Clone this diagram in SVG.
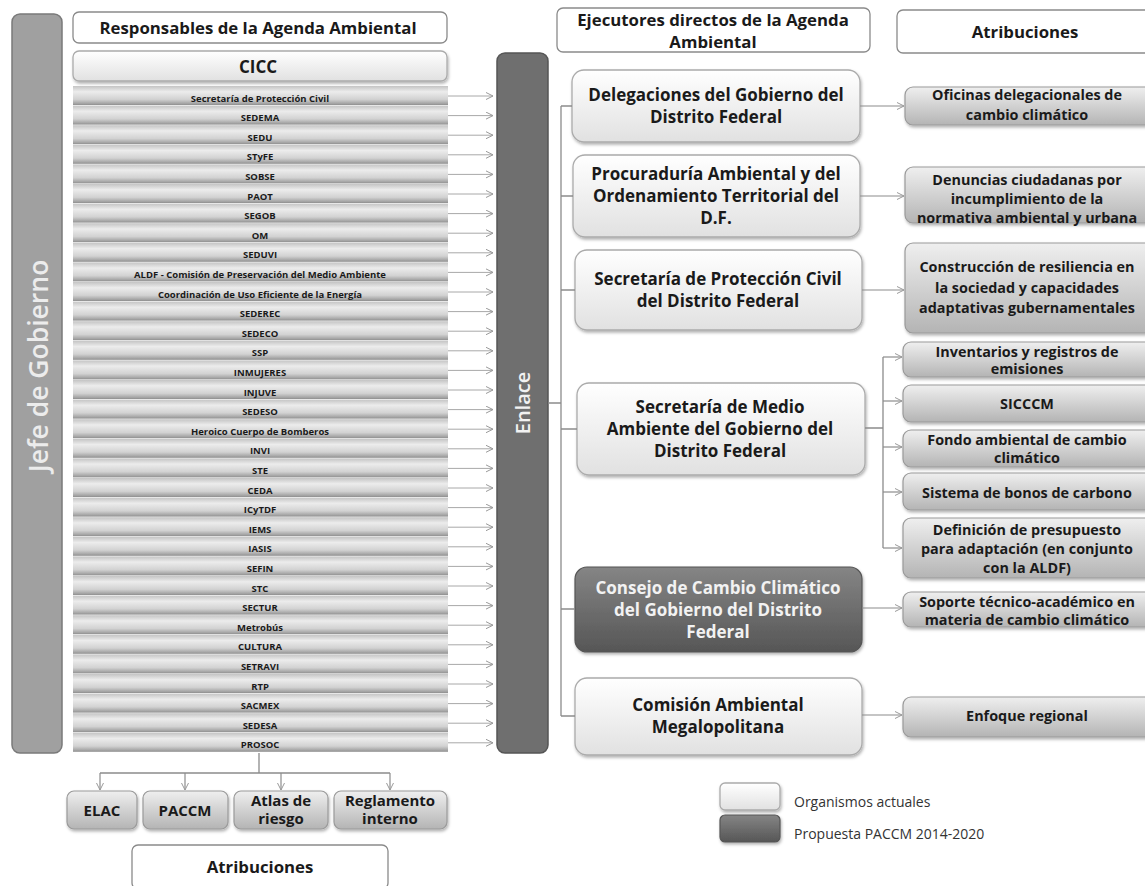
<svg xmlns="http://www.w3.org/2000/svg" width="1145" height="886" viewBox="0 0 1145 886">
<style>
text{font-family:"Open Sans","DejaVu Sans",sans-serif;font-weight:700;fill:#1a1a1a;text-anchor:middle}
.hdr{fill:#fff;stroke:#8a8a8a;stroke-width:1.3}
.lt{fill:url(#gLight);stroke:#ababab;stroke-width:1.3;filter:url(#sh)}
.at{fill:url(#gAttr);stroke:#9a9a9a;stroke-width:1.2;filter:url(#sh)}
.dk{fill:url(#gDark);stroke:#555;stroke-width:1.2;filter:url(#sh)}
.bar{fill:url(#gBar)}
.t15{font-size:15px}
.th{font-size:16.8px}
.t16{font-size:17px}
.t13{font-size:14.4px}
.t9{font-size:9.5px}
.ln{fill:none;stroke:#8c8c8c;stroke-width:1.3}
.ar{fill:none;stroke:#a8a8a8;stroke-width:1;marker-end:url(#ah)}
.ar2{fill:none;stroke:#8c8c8c;stroke-width:1.2;marker-end:url(#ah)}
.leg{font-weight:400;font-size:14px;fill:#333;text-anchor:start}
</style>
<defs>
<linearGradient id="gLight" x1="0" y1="0" x2="0" y2="1"><stop offset="0" stop-color="#ffffff"/><stop offset="1" stop-color="#e1e1e1"/></linearGradient>
<linearGradient id="gAttr" x1="0" y1="0" x2="0" y2="1"><stop offset="0" stop-color="#efefef"/><stop offset="1" stop-color="#b4b4b4"/></linearGradient>
<linearGradient id="gDark" x1="0" y1="0" x2="0" y2="1"><stop offset="0" stop-color="#858585"/><stop offset="1" stop-color="#565656"/></linearGradient>
<linearGradient id="gBar" x1="0" y1="0" x2="0" y2="1"><stop offset="0" stop-color="#c4c4c4"/><stop offset="0.3" stop-color="#ececec"/><stop offset="0.7" stop-color="#d2d2d2"/><stop offset="0.92" stop-color="#a4a4a4"/><stop offset="1" stop-color="#8e8e8e"/></linearGradient>
<filter id="sh" x="-10%" y="-10%" width="125%" height="135%"><feDropShadow dx="1" dy="2" stdDeviation="1.5" flood-color="#000" flood-opacity="0.3"/></filter>
<marker id="ah" markerWidth="10" markerHeight="10" refX="8" refY="4" orient="auto" markerUnits="userSpaceOnUse"><path d="M1,0.5 L8,4 L1,7.5" fill="none" stroke="#9a9a9a" stroke-width="1"/></marker>
</defs>

<g id="jefe"><rect x="12" y="14" width="50" height="739" rx="8" fill="#a0a0a0" stroke="#7a7a7a" stroke-width="1.5"/>
<text transform="translate(38,366) rotate(-90)" y="9.5" style="font-size:26.5px;font-weight:600;fill:#ececec">Jefe de Gobierno</text></g>

<g id="responsables"><rect class="hdr" x="73" y="12" width="374" height="31" rx="6"/><text class="th" x="258" y="34">Responsables de la Agenda Ambiental</text></g>
<g id="cicc"><rect class="lt" x="73" y="51" width="374" height="30" rx="6"/><text x="258" y="73" style="font-size:17px">CICC</text></g>

<g id="lista">
<rect class="bar" x="73" y="86" width="375" height="19"/><text class="t9" x="260" y="101.5">Secretaría de Protección Civil</text>
<rect class="bar" x="73" y="105.6" width="375" height="19"/><text class="t9" x="260" y="121.1">SEDEMA</text>
<rect class="bar" x="73" y="125.2" width="375" height="19"/><text class="t9" x="260" y="140.7">SEDU</text>
<rect class="bar" x="73" y="144.8" width="375" height="19"/><text class="t9" x="260" y="160.3">STyFE</text>
<rect class="bar" x="73" y="164.4" width="375" height="19"/><text class="t9" x="260" y="179.9">SOBSE</text>
<rect class="bar" x="73" y="184" width="375" height="19"/><text class="t9" x="260" y="199.5">PAOT</text>
<rect class="bar" x="73" y="203.6" width="375" height="19"/><text class="t9" x="260" y="219.1">SEGOB</text>
<rect class="bar" x="73" y="223.2" width="375" height="19"/><text class="t9" x="260" y="238.7">OM</text>
<rect class="bar" x="73" y="242.8" width="375" height="19"/><text class="t9" x="260" y="258.3">SEDUVI</text>
<rect class="bar" x="73" y="262.4" width="375" height="19"/><text class="t9" x="260" y="277.9">ALDF - Comisión de Preservación del Medio Ambiente</text>
<rect class="bar" x="73" y="282" width="375" height="19"/><text class="t9" x="260" y="297.5">Coordinación de Uso Eficiente de la Energía</text>
<rect class="bar" x="73" y="301.6" width="375" height="19"/><text class="t9" x="260" y="317.1">SEDEREC</text>
<rect class="bar" x="73" y="321.2" width="375" height="19"/><text class="t9" x="260" y="336.7">SEDECO</text>
<rect class="bar" x="73" y="340.8" width="375" height="19"/><text class="t9" x="260" y="356.3">SSP</text>
<rect class="bar" x="73" y="360.4" width="375" height="19"/><text class="t9" x="260" y="375.9">INMUJERES</text>
<rect class="bar" x="73" y="380" width="375" height="19"/><text class="t9" x="260" y="395.5">INJUVE</text>
<rect class="bar" x="73" y="399.6" width="375" height="19"/><text class="t9" x="260" y="415.1">SEDESO</text>
<rect class="bar" x="73" y="419.2" width="375" height="19"/><text class="t9" x="260" y="434.7">Heroico Cuerpo de Bomberos</text>
<rect class="bar" x="73" y="438.8" width="375" height="19"/><text class="t9" x="260" y="454.3">INVI</text>
<rect class="bar" x="73" y="458.4" width="375" height="19"/><text class="t9" x="260" y="473.9">STE</text>
<rect class="bar" x="73" y="478" width="375" height="19"/><text class="t9" x="260" y="493.5">CEDA</text>
<rect class="bar" x="73" y="497.6" width="375" height="19"/><text class="t9" x="260" y="513.1">ICyTDF</text>
<rect class="bar" x="73" y="517.2" width="375" height="19"/><text class="t9" x="260" y="532.7">IEMS</text>
<rect class="bar" x="73" y="536.8" width="375" height="19"/><text class="t9" x="260" y="552.3">IASIS</text>
<rect class="bar" x="73" y="556.4" width="375" height="19"/><text class="t9" x="260" y="571.9">SEFIN</text>
<rect class="bar" x="73" y="576" width="375" height="19"/><text class="t9" x="260" y="591.5">STC</text>
<rect class="bar" x="73" y="595.6" width="375" height="19"/><text class="t9" x="260" y="611.1">SECTUR</text>
<rect class="bar" x="73" y="615.2" width="375" height="19"/><text class="t9" x="260" y="630.7">Metrobús</text>
<rect class="bar" x="73" y="634.8" width="375" height="19"/><text class="t9" x="260" y="650.3">CULTURA</text>
<rect class="bar" x="73" y="654.4" width="375" height="19"/><text class="t9" x="260" y="669.9">SETRAVI</text>
<rect class="bar" x="73" y="674" width="375" height="19"/><text class="t9" x="260" y="689.5">RTP</text>
<rect class="bar" x="73" y="693.6" width="375" height="19"/><text class="t9" x="260" y="709.1">SACMEX</text>
<rect class="bar" x="73" y="713.2" width="375" height="19"/><text class="t9" x="260" y="728.7">SEDESA</text>
<rect class="bar" x="73" y="732.8" width="375" height="19"/><text class="t9" x="260" y="748.3">PROSOC</text>
</g>

<g id="enlace"><rect x="497" y="53" width="51" height="700" rx="8" fill="#6f6f6f" stroke="#565656" stroke-width="1.5"/>
<text transform="translate(523,403) rotate(-90)" y="7" style="font-size:20px;font-weight:600;fill:#f2f2f2">Enlace</text></g>

<g id="ejecutores"><rect class="hdr" x="557" y="8" width="313" height="44" rx="6"/><text class="th" x="713" y="26">Ejecutores directos de la Agenda</text><text class="th" x="713" y="48">Ambiental</text></g>
<g id="atribuciones-der"><rect class="hdr" x="897" y="10" width="256" height="43" rx="6"/><text class="th" x="1025" y="38">Atribuciones</text></g>

<g id="delegaciones"><rect class="lt" x="572" y="70" width="288" height="72" rx="12"/><text class="t16" x="716" y="101">Delegaciones del Gobierno del</text><text class="t16" x="716" y="123">Distrito Federal</text></g>
<g id="procuraduria"><rect class="lt" x="573" y="155" width="287" height="82" rx="12"/><text class="t16" x="716" y="180">Procuraduría Ambiental y del</text><text class="t16" x="716" y="202">Ordenamiento Territorial del</text><text class="t16" x="716" y="224">D.F.</text></g>
<g id="proteccion-civil"><rect class="lt" x="575" y="250" width="287" height="80" rx="12"/><text class="t16" x="718" y="285">Secretaría de Protección Civil</text><text class="t16" x="718" y="307">del Distrito Federal</text></g>
<g id="sedema"><rect class="lt" x="577" y="383" width="288" height="92" rx="12"/><text class="t16" x="720" y="413">Secretaría de Medio</text><text class="t16" x="720" y="435">Ambiente del Gobierno del</text><text class="t16" x="720" y="457">Distrito Federal</text></g>
<g id="consejo"><rect class="dk" x="575" y="567" width="287" height="85" rx="12"/><text class="t16" x="718" y="594" style="fill:#f2f2f2">Consejo de Cambio Climático</text><text class="t16" x="718" y="616" style="fill:#f2f2f2">del Gobierno del Distrito</text><text class="t16" x="718" y="638" style="fill:#f2f2f2">Federal</text></g>
<g id="comision"><rect class="lt" x="575" y="678" width="287" height="77" rx="12"/><text class="t16" x="718" y="711">Comisión Ambiental</text><text class="t16" x="718" y="733">Megalopolitana</text></g>

<g id="oficinas"><rect class="at" x="905" y="87" width="250" height="38" rx="8"/><text class="t13" x="1027" y="100">Oficinas delegacionales de</text><text class="t13" x="1027" y="120">cambio climático</text></g>
<g id="denuncias"><rect class="at" x="905" y="167" width="250" height="56" rx="8"/><text class="t13" x="1027" y="185">Denuncias ciudadanas por</text><text class="t13" x="1027" y="204">incumplimiento de la</text><text class="t13" x="1027" y="223">normativa ambiental y urbana</text></g>
<g id="resiliencia"><rect class="at" x="905" y="243" width="250" height="90" rx="8"/><text class="t13" x="1027" y="272">Construcción de resiliencia en</text><text class="t13" x="1027" y="292.5">la sociedad y capacidades</text><text class="t13" x="1027" y="313">adaptativas gubernamentales</text></g>
<g id="inventarios"><rect class="at" x="903" y="342" width="252" height="35" rx="8"/><text class="t13" x="1027" y="357">Inventarios y registros de</text><text class="t13" x="1027" y="374">emisiones</text></g>
<g id="sicccm"><rect class="at" x="903" y="385" width="252" height="37" rx="8"/><text class="t13" x="1027" y="409">SICCCM</text></g>
<g id="fondo"><rect class="at" x="903" y="430" width="252" height="37" rx="8"/><text class="t13" x="1027" y="445">Fondo ambiental de cambio</text><text class="t13" x="1027" y="463">climático</text></g>
<g id="bonos"><rect class="at" x="903" y="473" width="252" height="37" rx="8"/><text class="t13" x="1027" y="498">Sistema de bonos de carbono</text></g>
<g id="presupuesto"><rect class="at" x="903" y="518" width="252" height="60" rx="8"/><text class="t13" x="1027" y="535">Definición de presupuesto</text><text class="t13" x="1027" y="554">para adaptación (en conjunto</text><text class="t13" x="1027" y="573">con la ALDF)</text></g>
<g id="soporte"><rect class="at" x="903" y="592" width="252" height="35" rx="8"/><text class="t13" x="1027" y="607">Soporte técnico-académico en</text><text class="t13" x="1027" y="625">materia de cambio climático</text></g>
<g id="enfoque"><rect class="at" x="903" y="697" width="252" height="40" rx="8"/><text class="t13" x="1027" y="721">Enfoque regional</text></g>

<g id="elac"><rect class="at" x="67" y="791" width="70" height="38" rx="7"/><text class="t15" x="102" y="815.5">ELAC</text></g>
<g id="paccm"><rect class="at" x="143" y="791" width="85" height="38" rx="7"/><text class="t15" x="185" y="815.5">PACCM</text></g>
<g id="atlas"><rect class="at" x="234" y="791" width="94" height="38" rx="7"/><text class="t15" x="281" y="805.5">Atlas de</text><text class="t15" x="281" y="823.5">riesgo</text></g>
<g id="reglamento"><rect class="at" x="334" y="791" width="113" height="38" rx="7"/><text class="t15" x="390" y="805.5">Reglamento</text><text class="t15" x="390" y="823.5">interno</text></g>
<g id="atribuciones-inf"><rect class="hdr" x="132" y="845" width="256" height="44" rx="6"/><text class="th" x="260" y="873">Atribuciones</text></g>

<g id="leyenda">
<rect class="lt" x="720" y="783" width="60" height="27" rx="5"/><text class="leg" x="794" y="807">Organismos  actuales</text>
<rect class="dk" x="720" y="815" width="60" height="27" rx="5"/><text class="leg" x="794" y="839">Propuesta  PACCM 2014-2020</text>
</g>

<g id="conectores">
<path class="ar" d="M448,96 H493"/><path class="ar" d="M448,115.6 H493"/><path class="ar" d="M448,135.2 H493"/><path class="ar" d="M448,154.8 H493"/><path class="ar" d="M448,174.4 H493"/><path class="ar" d="M448,194 H493"/><path class="ar" d="M448,213.6 H493"/><path class="ar" d="M448,233.2 H493"/><path class="ar" d="M448,252.8 H493"/><path class="ar" d="M448,272.4 H493"/><path class="ar" d="M448,292 H493"/><path class="ar" d="M448,311.6 H493"/><path class="ar" d="M448,331.2 H493"/><path class="ar" d="M448,350.8 H493"/><path class="ar" d="M448,370.4 H493"/><path class="ar" d="M448,390 H493"/><path class="ar" d="M448,409.6 H493"/><path class="ar" d="M448,429.2 H493"/><path class="ar" d="M448,448.8 H493"/><path class="ar" d="M448,468.4 H493"/><path class="ar" d="M448,488 H493"/><path class="ar" d="M448,507.6 H493"/><path class="ar" d="M448,527.2 H493"/><path class="ar" d="M448,546.8 H493"/><path class="ar" d="M448,566.4 H493"/><path class="ar" d="M448,586 H493"/><path class="ar" d="M448,605.6 H493"/><path class="ar" d="M448,625.2 H493"/><path class="ar" d="M448,644.8 H493"/><path class="ar" d="M448,664.4 H493"/><path class="ar" d="M448,684 H493"/><path class="ar" d="M448,703.6 H493"/><path class="ar" d="M448,723.2 H493"/><path class="ar" d="M448,742.8 H493"/>
<path class="ln" d="M548,403 H561 M561,106 V716 M561,106 H572 M561,196 H573 M561,290 H575 M561,429 H577 M561,609 H575 M561,716 H575"/>
<path class="ar2" d="M860,106 H904"/><path class="ar2" d="M860,196 H904"/><path class="ar2" d="M862,290 H904"/>
<path class="ln" d="M865,428 H883 M883,357 V548"/>
<path class="ar2" d="M883,357 H902"/><path class="ar2" d="M883,401 H902"/><path class="ar2" d="M883,447 H902"/><path class="ar2" d="M883,492 H902"/><path class="ar2" d="M883,548 H902"/>
<path class="ar2" d="M862,608 H902"/><path class="ar2" d="M862,715 H902"/>
<path class="ln" d="M259,753 V773 M100,773 H390"/>
<path class="ar2" d="M100,773 V790"/><path class="ar2" d="M185,773 V790"/><path class="ar2" d="M281,773 V790"/><path class="ar2" d="M390,773 V790"/>
</g>
</svg>
